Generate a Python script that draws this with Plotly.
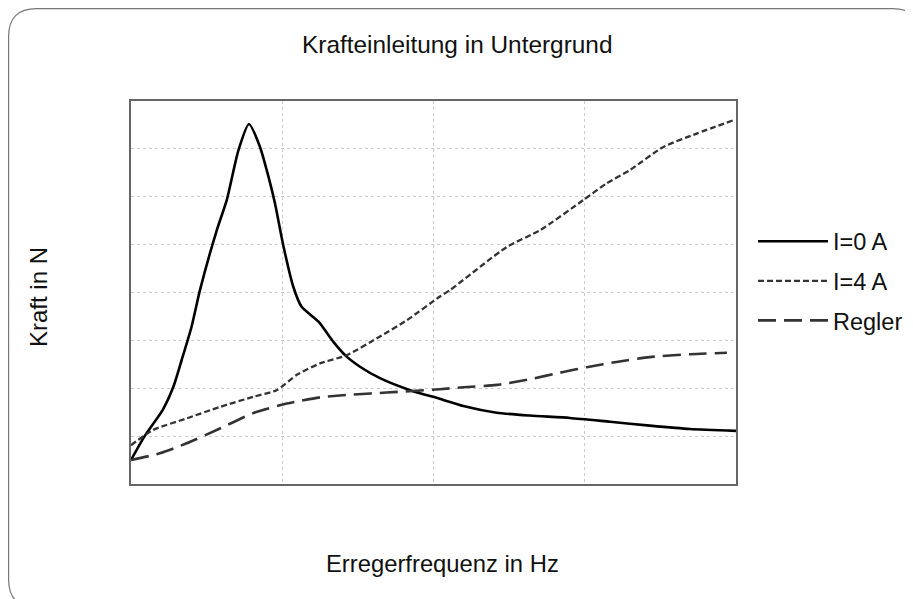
import plotly.graph_objects as go

# ---- data ----
x_i0 = [0.0, 0.09, 0.21, 0.28, 0.335, 0.40, 0.456, 0.567, 0.633, 0.71, 0.78, 0.853, 0.897, 0.952,
        1.007, 1.073, 1.128, 1.24, 1.338, 1.426, 1.514, 1.646, 1.845, 2.04, 2.197, 2.418, 2.638,
        2.902, 3.167, 3.43, 3.696, 4.0]
y_i0 = [0.5, 1.0, 1.55, 2.03, 2.59, 3.28, 4.05, 5.30, 5.93, 6.97, 7.52, 7.04, 6.56, 5.86,
        4.98, 4.12, 3.70, 3.39, 2.97, 2.66, 2.45, 2.21, 1.96, 1.78, 1.63, 1.49, 1.43,
        1.38, 1.30, 1.22, 1.15, 1.11]

x_i4 = [0.0, 0.147, 0.368, 0.588, 0.808, 0.963, 1.096, 1.25, 1.426, 1.646, 1.823, 2.04, 2.109,
        2.484, 2.704, 2.99, 3.145, 3.30, 3.52, 3.74, 3.993]
y_i4 = [0.81, 1.13, 1.37, 1.61, 1.82, 1.96, 2.28, 2.52, 2.69, 3.08, 3.42, 3.91, 4.05,
        4.95, 5.30, 5.93, 6.28, 6.56, 7.04, 7.32, 7.61]

x_reg = [0.0, 0.19, 0.368, 0.588, 0.808, 1.03, 1.25, 1.47, 1.69, 2.04, 2.197, 2.418, 2.638,
         2.858, 3.013, 3.21, 3.43, 3.696, 3.94]
y_reg = [0.5, 0.64, 0.85, 1.16, 1.48, 1.68, 1.81, 1.87, 1.91, 1.98, 2.02, 2.07, 2.19,
         2.34, 2.44, 2.55, 2.65, 2.71, 2.74]

series_names = ["I=0 A", "I=4 A", "Regler"]

title_text = "Krafteinleitung in Untergrund"
x_title = "Erregerfrequenz in Hz"
y_title = "Kraft in N"

FONT = "Liberation Sans, Arial, sans-serif"
FS = 24

fig = go.Figure()
fig.add_trace(go.Scatter(x=x_i0, y=y_i0, name=series_names[0], mode="lines",
                         line=dict(color="#000000", width=2.6, shape="spline", smoothing=0.6),
                         legendgroup="a"))
fig.add_trace(go.Scatter(x=x_i4, y=y_i4, name=series_names[1], mode="lines",
                         line=dict(color="#333333", width=2.3, dash="6px,3px", shape="spline", smoothing=0.6),
                         legendgroup="b"))
fig.add_trace(go.Scatter(x=x_reg, y=y_reg, name=series_names[2], mode="lines",
                         line=dict(color="#333333", width=2.6, dash="18px,8px", shape="spline", smoothing=0.6),
                         legendgroup="c"))

# figure coordinates (the page's 8px body margin offsets the screenshot)
W, H = 913, 599
L, R, T, B = 123, 185, 93, 123
pw, ph = W - L - R, H - T - B

def px(xp):
    return (xp - L) / pw

def py(yp):
    return (H - B - yp) / ph

# rounded outer border = figure edge (right/bottom run off the visible page)
x0, y0, x1, y1, r = 0.6, 0.6, 912.4, 599.5, 28
path = (f"M {px(x0+r)},{py(y0)} L {px(x1-r)},{py(y0)} "
        f"Q {px(x1)},{py(y0)} {px(x1)},{py(y0+r)} "
        f"L {px(x1)},{py(y1-r)} Q {px(x1)},{py(y1)} {px(x1-r)},{py(y1)} "
        f"L {px(x0+r)},{py(y1)} Q {px(x0)},{py(y1)} {px(x0)},{py(y1-r)} "
        f"L {px(x0)},{py(y0+r)} Q {px(x0)},{py(y0)} {px(x0+r)},{py(y0)} Z")

fig.update_layout(
    width=W, height=H,
    margin=dict(l=L, r=R, t=T, b=B, autoexpand=False),
    paper_bgcolor="white", plot_bgcolor="white",
    font=dict(family=FONT, size=FS, color="#111111"),
    showlegend=True,
    legend=dict(x=px(745), xanchor="left", y=py(211.5), yanchor="top",
                font=dict(size=23.5, color="#111111"), itemwidth=70,
                tracegroupgap=6, bgcolor="rgba(0,0,0,0)"),
    shapes=[dict(type="path", path=path, xref="paper", yref="paper",
                 line=dict(color="#777777", width=1.2), layer="below")],
    annotations=[
        dict(text=title_text, x=px(449), y=py(36), xref="paper", yref="paper",
             showarrow=False, xanchor="center", yanchor="middle", font=dict(size=24.4)),
        dict(text=x_title, x=px(434), y=py(555), xref="paper", yref="paper",
             showarrow=False, xanchor="center", yanchor="middle", font=dict(size=23.8)),
        dict(text=y_title, x=px(30), y=py(289), xref="paper", yref="paper",
             showarrow=False, xanchor="center", yanchor="middle", textangle=-90,
             font=dict(size=FS)),
    ],
)
fig.update_xaxes(range=[0, 4], dtick=1, showticklabels=False, ticks="",
                 showgrid=True, gridcolor="#cccccc", griddash="dot", gridwidth=1,
                 showline=True, linecolor="#666666", linewidth=1.5, mirror=True,
                 zeroline=False, fixedrange=True)
fig.update_yaxes(range=[0, 8], dtick=1, showticklabels=False, ticks="",
                 showgrid=True, gridcolor="#cccccc", griddash="dot", gridwidth=1,
                 showline=True, linecolor="#666666", linewidth=1.5, mirror=True,
                 zeroline=False, fixedrange=True)

fig.write_html("out.html", config=dict(displayModeBar=False),
               default_width="913px", default_height="599px")
